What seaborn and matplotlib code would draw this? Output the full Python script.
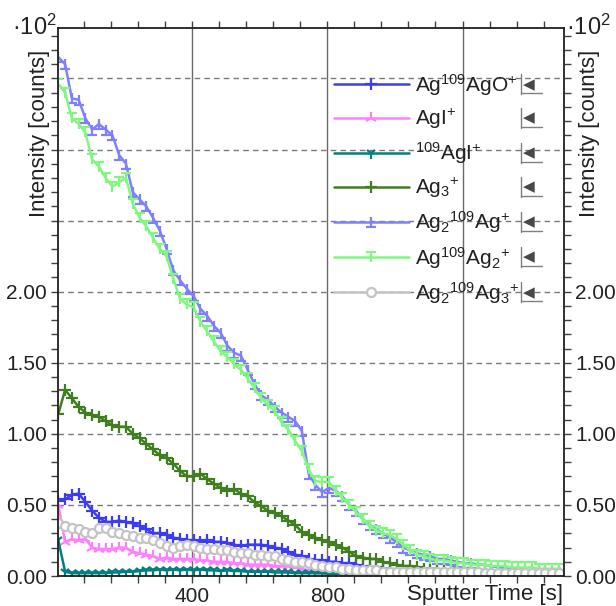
import numpy as np
import pandas as pd
import matplotlib
matplotlib.use("Agg")
import matplotlib.pyplot as plt
import seaborn as sns
from matplotlib.path import Path
from matplotlib.ticker import MultipleLocator, FuncFormatter
from matplotlib.lines import Line2D

# ---------------- data (values in units of 10^2 counts) ----------------
time_s = list(range(5, 1500, 20))

ag109ago = [0.53, 0.54, 0.57, 0.58, 0.52, 0.46, 0.41, 0.38, 0.38, 0.39,
            0.38, 0.37, 0.35, 0.33, 0.30, 0.30, 0.29, 0.27, 0.26, 0.25,
            0.25, 0.24, 0.25, 0.24, 0.24, 0.23, 0.22, 0.21, 0.22, 0.22,
            0.22, 0.21, 0.20, 0.19, 0.17, 0.15, 0.14, 0.12, 0.11, 0.11,
            0.10, 0.10, 0.09, 0.09, 0.08, 0.07, 0.06, 0.06, 0.05, 0.05,
            0.04, 0.04, 0.04, 0.03, 0.03, 0.03, 0.03, 0.03, 0.03, 0.02,
            0.02, 0.02, 0.02, 0.02, 0.02, 0.02, 0.02, 0.02, 0.02, 0.02,
            0.02, 0.02, 0.02, 0.02, 0.02]

agi = [0.50, 0.24, 0.26, 0.25, 0.26, 0.20, 0.19, 0.19, 0.19, 0.20,
       0.20, 0.17, 0.16, 0.15, 0.14, 0.12, 0.13, 0.12, 0.12, 0.12,
       0.12, 0.11, 0.11, 0.10, 0.10, 0.10, 0.09, 0.09, 0.08, 0.08,
       0.08, 0.08, 0.07, 0.07, 0.07, 0.06, 0.05, 0.04, 0.04, 0.03,
       0.03, 0.03, 0.03, 0.02, 0.02, 0.02, 0.02, 0.02, 0.02, 0.02,
       0.02, 0.02, 0.02, 0.02, 0.02, 0.02, 0.02, 0.02, 0.02, 0.02,
       0.01, 0.01, 0.01, 0.01, 0.01, 0.01, 0.01, 0.01, 0.01, 0.01,
       0.01, 0.01, 0.01, 0.01, 0.01]

ag109i = [0.25, 0.03, 0.02, 0.02, 0.02, 0.02, 0.02, 0.02, 0.025, 0.025,
          0.03, 0.03, 0.035, 0.04, 0.04, 0.045, 0.04, 0.045, 0.04, 0.045,
          0.04, 0.045, 0.04, 0.04, 0.035, 0.04, 0.035, 0.035, 0.03, 0.03,
          0.03, 0.03, 0.025, 0.025, 0.025, 0.02, 0.02, 0.02, 0.02, 0.02,
          0.015, 0.015, 0.015, 0.01, 0.01, 0.01, 0.01, 0.01, 0.01, 0.01,
          0.01, 0.01, 0.01, 0.01, 0.01, 0.01, 0.01, 0.01, 0.01, 0.01,
          0.01, 0.01, 0.01, 0.01, 0.01, 0.01, 0.01, 0.01, 0.01, 0.01,
          0.01, 0.01, 0.01, 0.01, 0.01]

ag3 = [1.14, 1.31, 1.25, 1.19, 1.15, 1.13, 1.12, 1.09, 1.06, 1.05,
       1.05, 1.00, 0.97, 0.93, 0.89, 0.85, 0.83, 0.79, 0.74, 0.70,
       0.70, 0.72, 0.68, 0.65, 0.62, 0.60, 0.61, 0.58, 0.56, 0.52,
       0.49, 0.46, 0.44, 0.42, 0.39, 0.36, 0.31, 0.29, 0.27, 0.25,
       0.24, 0.22, 0.20, 0.17, 0.14, 0.13, 0.12, 0.12, 0.10, 0.09,
       0.08, 0.07, 0.07, 0.06, 0.05, 0.05, 0.05, 0.04, 0.04, 0.04,
       0.04, 0.03, 0.03, 0.03, 0.03, 0.03, 0.03, 0.03, 0.02, 0.02,
       0.02, 0.02, 0.02, 0.02, 0.02]

ag2_109ag = [3.65, 3.60, 3.36, 3.35, 3.22, 3.14, 3.18, 3.14, 3.10, 2.96,
             2.90, 2.70, 2.65, 2.60, 2.52, 2.43, 2.30, 2.15, 2.08, 2.02,
             1.97, 1.88, 1.83, 1.76, 1.71, 1.62, 1.57, 1.55, 1.45, 1.35,
             1.27, 1.24, 1.19, 1.15, 1.12, 1.09, 1.02, 0.72, 0.64, 0.59,
             0.62, 0.60, 0.56, 0.50, 0.46, 0.40, 0.36, 0.33, 0.30, 0.27,
             0.24, 0.20, 0.18, 0.16, 0.15, 0.14, 0.12, 0.12, 0.11, 0.10,
             0.09, 0.09, 0.08, 0.08, 0.07, 0.06, 0.06, 0.05, 0.05, 0.04,
             0.04, 0.04, 0.03, 0.03, 0.03]

ag109ag2 = [3.46, 3.40, 3.22, 3.18, 3.12, 2.93, 2.88, 2.80, 2.74, 2.77,
            2.80, 2.62, 2.52, 2.46, 2.38, 2.30, 2.25, 2.09, 1.95, 1.91,
            1.89, 1.79, 1.72, 1.65, 1.58, 1.54, 1.49, 1.45, 1.39, 1.32,
            1.25, 1.20, 1.16, 1.08, 1.03, 0.95, 0.88, 0.75, 0.67, 0.66,
            0.66, 0.60, 0.55, 0.50, 0.45, 0.40, 0.35, 0.32, 0.30, 0.29,
            0.26, 0.22, 0.18, 0.15, 0.14, 0.12, 0.11, 0.11, 0.10, 0.09,
            0.09, 0.08, 0.08, 0.08, 0.07, 0.07, 0.07, 0.06, 0.06, 0.06,
            0.06, 0.05, 0.05, 0.05, 0.05]

ag2_109ag3 = [0.37, 0.35, 0.34, 0.33, 0.31, 0.30, 0.34, 0.34, 0.31, 0.30,
              0.29, 0.28, 0.27, 0.27, 0.25, 0.23, 0.21, 0.20, 0.21, 0.22,
              0.21, 0.20, 0.19, 0.19, 0.18, 0.18, 0.17, 0.16, 0.16, 0.15,
              0.15, 0.14, 0.14, 0.12, 0.11, 0.10, 0.10, 0.09, 0.08, 0.07,
              0.06, 0.06, 0.05, 0.05, 0.04, 0.04, 0.04, 0.04, 0.03, 0.03,
              0.03, 0.03, 0.03, 0.03, 0.03, 0.03, 0.03, 0.03, 0.03, 0.03,
              0.03, 0.03, 0.03, 0.02, 0.02, 0.02, 0.02, 0.02, 0.02, 0.02,
              0.02, 0.02, 0.02, 0.02, 0.02]

labels = ["Ag$^{109}$AgO$^{+}$", "AgI$^{+}$", "$^{109}$AgI$^{+}$", "Ag$_{3}$$^{+}$",
          "Ag$_{2}$$^{109}$Ag$^{+}$", "Ag$^{109}$Ag$_{2}$$^{+}$",
          "Ag$_{2}$$^{109}$Ag$_{3}$$^{+}$"]
values = [ag109ago, agi, ag109i, ag3, ag2_109ag, ag109ag2, ag2_109ag3]

y_major_labels = ["0.00", "0.50", "1.00", "1.50", "2.00"]
x_major_labels = ["400", "800"]

# ---------------- style ----------------
sns.set_style("white")
plt.rcParams["font.family"] = ["Liberation Sans", "DejaVu Sans"]
plt.rcParams["mathtext.fontset"] = "custom"
plt.rcParams["mathtext.rm"] = "Liberation Sans"
plt.rcParams["mathtext.it"] = "Liberation Sans:italic"
plt.rcParams["mathtext.bf"] = "Liberation Sans:bold"

perp = Path([(-1, -1), (1, -1), (0, -1), (0, 1)],
            [Path.MOVETO, Path.LINETO, Path.MOVETO, Path.LINETO])
tee = Path([(-1, 1), (1, 1), (0, 1), (0, -1)],
           [Path.MOVETO, Path.LINETO, Path.MOVETO, Path.LINETO])

colors = ["#3c3cf5", "#ff80ff", "#008080", "#3f7f20", "#8080ff", "#80f880", "#c4c4c4"]
markers = ["+", "2", "1", "+", perp, tee, "o"]
msizes = [9, 9, 8, 9, 7, 7, 6.5]
mfaces = ["none", "none", "none", "none", "none", "none", "white"]

fig = plt.figure(figsize=(6.16, 6.06), dpi=100)
ax = fig.add_axes([58 / 616, 1 - 576 / 606, 506 / 616, 548 / 606])
ax.set_axisbelow(True)

for lab, vals, c, m, ms, fc in zip(labels, values, colors, markers, msizes, mfaces):
    df = pd.DataFrame({"time": time_s, "intensity": vals})
    sns.lineplot(data=df, x="time", y="intensity", ax=ax, color=c, linewidth=1.8,
                 marker=m, markersize=ms, markeredgecolor=c, markeredgewidth=1.6,
                 markerfacecolor=fc, label=lab, errorbar=None, sort=False)

ax.set_xlim(4, 1500)
ax.set_ylim(0, 3.855)
ax.set_xlabel("")
ax.set_ylabel("")

ax.xaxis.set_major_locator(MultipleLocator(400))
ax.xaxis.set_minor_locator(MultipleLocator(80))
ax.xaxis.set_major_formatter(FuncFormatter(
    lambda v, p: f"{v:.0f}" if f"{v:.0f}" in x_major_labels else ""))
ax.yaxis.set_major_locator(MultipleLocator(0.5))
ax.yaxis.set_minor_locator(MultipleLocator(0.1))
ax.yaxis.set_major_formatter(FuncFormatter(
    lambda v, p: f"{v:.2f}" if f"{v:.2f}" in y_major_labels else ""))

ax.tick_params(which="both", direction="out", top=True, right=True, left=True,
               bottom=True, labelright=True, length=5, width=1, color="#404040",
               labelsize=15, labelcolor="#222222", pad=3)
ax.tick_params(axis="x", which="both", pad=3)

ax.grid(False)
ax.xaxis.grid(True, which="major", color="#6a6a6a", linewidth=1, linestyle="-")
ax.yaxis.grid(True, which="major", color="#7a7a7a", linewidth=1, linestyle=(0, (4, 3)))

for s in ax.spines.values():
    s.set_visible(True)
    s.set_color("#202020")
    s.set_linewidth(1.3)

handles, labs = ax.get_legend_handles_labels()
leg = ax.legend(handles, labs, loc="upper left", bbox_to_anchor=(0.545, 0.92),
                frameon=False, fontsize=15, handlelength=3.6, handletextpad=0.3,
                labelspacing=0.45, borderpad=0, borderaxespad=0, numpoints=1)
for t in leg.get_texts():
    t.set_color("#222222")

# axis texts
for xp in (40, 589):
    fig.text(xp / 616, 1 - 133 / 606, "Intensity [counts]", rotation=90,
             ha="center", va="center", fontsize=16, color="#222222")
fig.text(12 / 616, 1 - 35 / 606, "\u00b710$^{2}$", ha="left", va="baseline",
         fontsize=17, color="#222222")
fig.text(566 / 616, 1 - 35 / 606, "\u00b710$^{2}$", ha="left", va="baseline",
         fontsize=17, color="#222222")
fig.text(563 / 616, 1 - 600 / 606, "Sputter Time [s]", ha="right", va="baseline",
         fontsize=16, color="#222222")

# small scale-toggle icons next to legend entries
fig.canvas.draw()
for h in leg.legend_handles:
    pts = h.get_transform().transform(h.get_xydata())
    cy = pts[:, 1].mean()
    fig.text(529 / 616, cy / 606, "\u25c0", ha="center", va="center", fontsize=11,
             color="#484848", family=["DejaVu Sans"])
    fig.add_artist(Line2D([521 / 616, 521 / 616], [(cy - 10) / 606, (cy + 10) / 606],
                          transform=fig.transFigure, color="#808080", lw=1))
    fig.add_artist(Line2D([521 / 616, 542 / 616], [(cy - 9) / 606, (cy - 9) / 606],
                          transform=fig.transFigure, color="#808080", lw=1))

fig.savefig("out.png", dpi=100)
